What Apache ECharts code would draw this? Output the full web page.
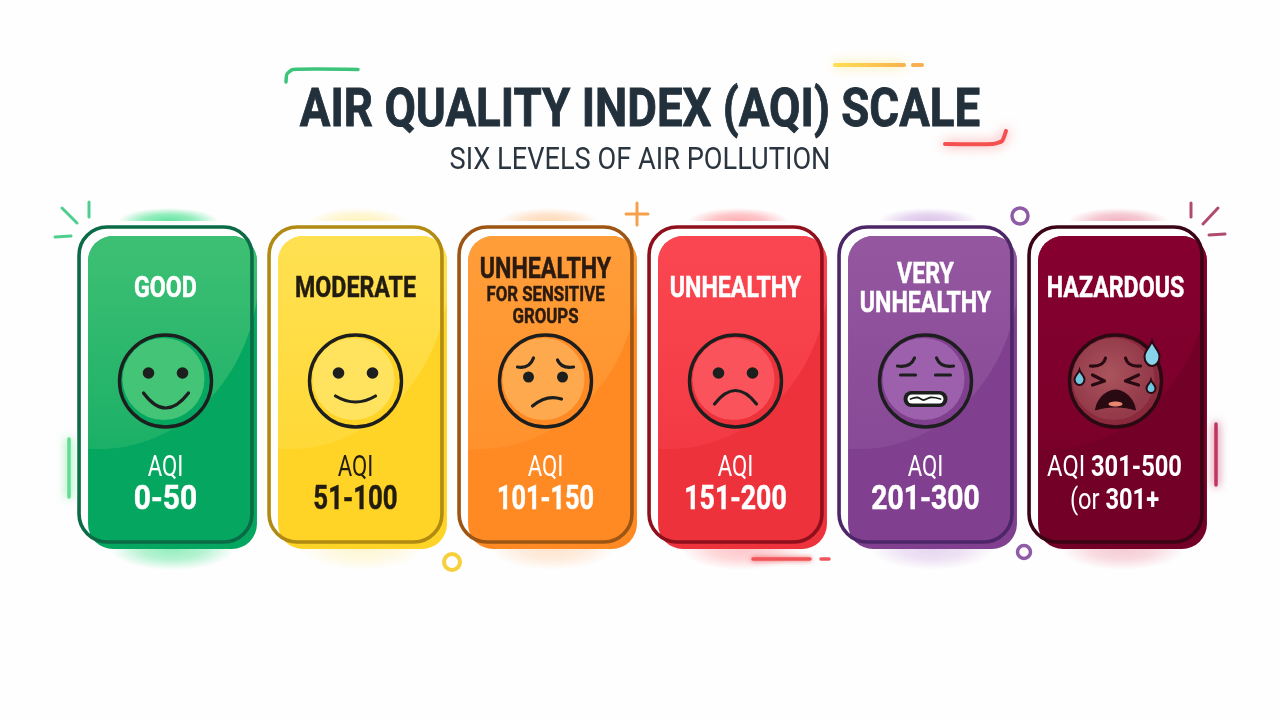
<!DOCTYPE html>
<html><head><meta charset="utf-8">
<style>html,body{margin:0;padding:0;background:#fefefe}#c{width:1280px;height:720px}</style>
<script src="https://cdn.jsdelivr.net/npm/echarts@6/dist/echarts.min.js"></script>
</head><body><div id="c"></div>
<script>
// ---- data ----
const categories = ['Good','Moderate','Unhealthy for Sensitive Groups','Unhealthy','Very Unhealthy','Hazardous'];
const aqiLow  = [0,51,101,151,201,301];
const aqiHigh = [50,100,150,200,300,500];
const heading = 'AIR QUALITY INDEX (AQI) SCALE';
const subheading = 'SIX LEVELS OF AIR POLLUTION';
// ---- palette ----
const baseCol  = ['#05a65f','#ffd426','#ff8a24','#ee323c','#80408f','#730026'];
const lightCol = ['#3cbf73','#ffe050','#ff9d38','#fa4650','#93569f','#85002f'];
const edgeCol  = ['#0b6b46','#b08a12','#9c5512','#8f0f1c','#4d2668','#3a0415'];
const glowCol  = ['#3fe08a','#fff0b0','#ffd0a8','#ff9aa0','#d4b4e4','#eea0b0'];
const faceCol  = ['#43c476','#ffe25e','#ffa94e','#fb535c','#9c60ac','#a64c58'];
const inkCol   = ['#fff','#221c10','#2a1a10','#fff','#fff','#fff'];
const rangeCol = ['#fff','#221c10','#fff','#fff','#fff','#fff'];
const rangeFit = [0.88,0.76,0.745,0.785,0.83,0.8];
const FONT = 'Roboto';
const LINE = '#1d1f1e';
const alpha = echarts.color.modifyAlpha;

function txt(x,y,text,size,weight,color,sx){
  return {type:'text',x:x,y:y,scaleX:sx,style:{text:text,x:0,y:0,align:'center',verticalAlign:'middle',
    fontFamily:FONT,fontSize:size,fontWeight:weight,fill:color,stroke:weight===700?color:null,lineWidth:weight===700?0.5:0}};
}
function curve(x1,y1,cx,cy,x2,y2,w,color){
  return {type:'bezierCurve',shape:{x1,y1,x2,y2,cpx1:cx,cpy1:cy},style:{fill:null,stroke:color||LINE,lineWidth:w||3.2,lineCap:'round'}};
}
function dot(x,y,r,color){return {type:'circle',shape:{cx:x,cy:y,r},style:{fill:color||LINE}};}
function pth(d,x,y,w,h,style){return {type:'path',shape:{pathData:d,x,y,width:w,height:h,layout:'cover'},style};}
function drop(x,y,w,h,fill,stroke){
  return pth('M50 0 C60 30 100 50 100 80 A50 50 0 0 1 0 80 C0 50 40 30 50 0 Z',x,y,w,h,{fill,stroke:stroke||null,lineWidth:stroke?2:0});
}
function glow(x,y,rx,ry,i,op){
  return {type:'circle',x:x,y:y,scaleX:rx,scaleY:ry,shape:{cx:0,cy:0,r:1},
    style:{opacity:op,fill:new echarts.graphic.RadialGradient(0.5,0.5,0.5,[{offset:0,color:glowCol[i]},{offset:0.5,color:alpha(glowCol[i],0.7)},{offset:1,color:alpha(glowCol[i],0)}])}};
}
function face(i,x,y){
  const o=[];
  const ink=i===5?'#2a0a12':LINE;
  o.push({type:'circle',shape:{cx:x,cy:y,r:46},style:{fill:i===5?'#8a2a3c':baseCol[i],stroke:ink,lineWidth:3.4}});
  const inner=i===5?new echarts.graphic.RadialGradient(0.45,0.45,0.5,[{offset:0,color:'#aa555e'},{offset:1,color:'#943a4a'}]):faceCol[i];
  o.push({type:'circle',shape:{cx:x-2,cy:y-2,r:41},style:{fill:inner}});
  if(i===0){
    o.push(dot(x-17,y-8,5.8),dot(x+17,y-8,5.8),curve(x-22,y+12,x,y+42,x+23,y+12));
  }else if(i===1){
    o.push(dot(x-17,y-8,5.8),dot(x+17,y-8,5.8),curve(x-20,y+15,x,y+27,x+20,y+15));
  }else if(i===2){
    o.push(dot(x-17,y-4,5.5),dot(x+17,y-4,5.5),
      curve(x-28,y-14,x-16,y-12,x-12,y-23),curve(x+12,y-21,x+16,y-12,x+28,y-14),
      curve(x-13,y+25,x+1,y+13,x+16,y+18));
  }else if(i===3){
    o.push(dot(x-17,y-8,5.8),dot(x+17,y-8,5.8),curve(x-21,y+23,x,y-4,x+21,y+23));
  }else if(i===4){
    o.push(curve(x-28,y-15,x-15,y-13,x-11,y-23),curve(x+11,y-23,x+15,y-13,x+28,y-15),
      curve(x-25,y-6,x-17,y-6,x-10,y-6),curve(x+10,y-6,x+17,y-6,x+25,y-6));
    o.push({type:'rect',shape:{x:x-22,y:y+10,width:44,height:16,r:8},style:{fill:LINE}});
    o.push({type:'rect',shape:{x:x-18,y:y+13.5,width:36,height:9,r:4.5},style:{fill:'#fff'}});
    o.push({type:'polyline',shape:{points:[[x-15,y+18],[x-8,y+16.5],[x-2,y+19],[x+5,y+16.5],[x+15,y+18]],smooth:0.4},style:{fill:null,stroke:LINE,lineWidth:1.8,lineCap:'round'}});
  }else{
    o.push(curve(x-25,y-15,x-12,y-14,x-10,y-23,3.2,ink),curve(x+10,y-23,x+12,y-14,x+25,y-15,3.2,ink));
    o.push({type:'polyline',shape:{points:[[x-23,y-6],[x-11,y],[x-23,y+4]]},style:{fill:null,stroke:ink,lineWidth:3.2,lineCap:'round',lineJoin:'round'}});
    o.push({type:'polyline',shape:{points:[[x+23,y-6],[x+10,y],[x+23,y+4]]},style:{fill:null,stroke:ink,lineWidth:3.2,lineCap:'round',lineJoin:'round'}});
    o.push(pth('M0 29 C2 8 14 0 20 0 C26 0 38 8 40 29 C28 23 12 23 0 29 Z',x-20,y+9,40,20,{fill:ink,stroke:ink,lineWidth:1}));
    o.push({type:'ellipse',shape:{cx:x,cy:y+23,rx:7,ry:2.5},style:{fill:'#e8866f'}});
    o.push(drop(x-41,y-11,10,15,'#6fc7e0',ink));
    o.push(drop(x+31,y-1,9,13,'#6fc7e0',ink));
    o.push(drop(x+29,y-40,15,25,'#86d3ea',ink));
  }
  return o;
}
function card(params,api){
  const i=params.dataIndex;
  const top=api.coord([i,1]), bot=api.coord([i,0]);
  const band=api.size([1,0])[0];
  const cx=top[0], hw=band*0.455;
  const L=cx-hw, T=top[1], B=bot[1], H=B-T;
  const FL=L+9, FT=T+9, FW=hw*2-4, FH=H-2;
  const clip={type:'rect',shape:{x:FL,y:FT,width:FW,height:FH,r:25}};
  const kids=[];
  kids.push(glow(cx+3,T-6,50,13,i,0.8));
  kids.push(glow(cx+7,FT+FH,62,21,i,0.55));
  kids.push({type:'rect',shape:{x:L-4,y:T-6,width:hw*2+8,height:18},style:{fill:'#fefefe'}});
  kids.push({type:'rect',shape:{x:FL,y:FT,width:FW,height:FH,r:25},style:{fill:baseCol[i]}});
  kids.push({type:'ellipse',shape:{cx:FL+10,cy:FT+34,rx:161,ry:179},clipPath:clip,
    style:{fill:new echarts.graphic.LinearGradient(0,0,0,1,[{offset:0,color:lightCol[i]},{offset:0.45,color:lightCol[i]},{offset:1,color:alpha(lightCol[i],0.4)}])}});
  kids.push({type:'rect',shape:{x:L,y:T,width:hw*2,height:H,r:28},style:{fill:null,stroke:edgeCol[i],lineWidth:3.6}});
  const S=0.8;
  if(i===2){
    kids.push(txt(cx,T+44,'UNHEALTHY',29,700,inkCol[i],S));
    kids.push(txt(cx,T+69,'FOR SENSITIVE',21,700,inkCol[i],S));
    kids.push(txt(cx,T+91,'GROUPS',21,700,inkCol[i],S));
  }else if(i===4){
    kids.push(txt(cx,T+49,'VERY',29,700,inkCol[i],S));
    kids.push(txt(cx,T+78,'UNHEALTHY',29,700,inkCol[i],S));
  }else{
    kids.push(txt(cx,T+63,categories[i].toUpperCase(),29,700,inkCol[i],S));
  }
  kids.push(...face(i,cx,T+154));
  const range=aqiLow[i]+'-'+aqiHigh[i];
  if(i===5){
    const rich={r:{fontFamily:FONT,fontSize:30,fontWeight:400,fill:'#fff'},b:{fontFamily:FONT,fontSize:30,fontWeight:700,fill:'#fff'}};
    kids.push({type:'text',x:cx-1,y:T+241,scaleX:0.79,style:{text:'{r|AQI}{r| }{b|'+range+'}',x:0,y:0,align:'center',verticalAlign:'middle',rich}});
    kids.push({type:'text',x:cx-1,y:T+274,scaleX:0.79,style:{text:'{r|(or}{r| }{b|'+aqiLow[i]+'+}',x:0,y:0,align:'center',verticalAlign:'middle',rich}});
  }else{
    kids.push(txt(cx,T+241,'AQI',30,400,rangeCol[i],0.74));
    kids.push(txt(cx,T+273,range,34,700,rangeCol[i],rangeFit[i]));
  }
  return {type:'group',children:kids};
}
function deco(x1,y1,x2,y2,color,w,blur){
  return {type:'line',z:20,shape:{x1,y1,x2,y2},style:{stroke:color,lineWidth:w||3,lineCap:'round',shadowBlur:blur||0,shadowColor:color}};
}
const chart=echarts.init(document.getElementById('c'));
chart.setOption({
  backgroundColor:'#fefefe',
  animation:false,
  grid:{left:70.5,width:1140,top:227,height:315},
  xAxis:{type:'category',data:categories,show:false},
  yAxis:{type:'value',min:0,max:1,show:false},
  series:[{type:'custom',coordinateSystem:'cartesian2d',renderItem:card,clip:false,
    encode:{x:0,y:1},data:categories.map(c=>[c,1])}],
  graphic:[
    {type:'text',z:20,x:640,y:112,scaleX:0.845,style:{text:heading,x:0,y:0,align:'center',verticalAlign:'middle',fontFamily:FONT,fontSize:54,fontWeight:700,fill:'#22303c',stroke:'#22303c',lineWidth:0.9}},
    {type:'text',z:20,x:640,y:161,scaleX:0.85,style:{text:subheading,x:0,y:0,align:'center',verticalAlign:'middle',fontFamily:FONT,fontSize:32,fontWeight:400,fill:'#2a3540'}},
    // title accents
    {type:'polyline',z:20,shape:{points:[[286,82],[287,74],[293,69.5],[358,69.5]],smooth:0.2},style:{fill:null,stroke:'#3cc47a',lineWidth:3.5,lineCap:'round'}},
    {type:'line',z:20,shape:{x1:835,y1:65,x2:904,y2:65},style:{stroke:new echarts.graphic.LinearGradient(0,0,1,0,[{offset:0,color:'#ffe050'},{offset:1,color:'#f8b050'}]),lineWidth:4,lineCap:'round',shadowBlur:12,shadowColor:'#ffe680'}},
    deco(913,65,922,65,'#f8b050',4),
    {type:'polyline',z:20,shape:{points:[[945,144],[993,144],[1002,141],[1006,131]],smooth:0.2},style:{fill:null,stroke:'#f4504f',lineWidth:4,lineCap:'round',shadowBlur:12,shadowColor:'#ff8a8a'}},
    // green sparks
    deco(62,208,77,223,'#4fcf8f'),deco(89,202,89,217,'#4fcf8f'),deco(55,237,71,236,'#4fcf8f'),
    deco(69,439,69,497,'#5fe08f',3.5,10),
    // plus
    deco(626,214,648,214,'#f5a04a'),deco(637,203,637,225,'#f5a04a'),
    // rings
    {type:'circle',z:20,shape:{cx:452,cy:562,r:8},style:{fill:null,stroke:'#f6cf3c',lineWidth:4}},
    {type:'circle',z:20,shape:{cx:1020,cy:216,r:8},style:{fill:null,stroke:'#8e5ba6',lineWidth:3.5}},
    {type:'circle',z:20,shape:{cx:1024,cy:552,r:6.5},style:{fill:null,stroke:'#8e5ba6',lineWidth:3.5}},
    // red dashes
    deco(753,559,810,559,'#f0555a',3.5,5),deco(821,559,829,559,'#f0555a',3.5),
    // maroon sparks
    deco(1191,203,1191,217,'#b04a70'),deco(1218,208,1203,224,'#b04a70'),deco(1209,235,1225,234,'#b04a70'),
    deco(1216,424,1216,485,'#c0345f',3.5,10)
  ]
});
</script></body></html>
